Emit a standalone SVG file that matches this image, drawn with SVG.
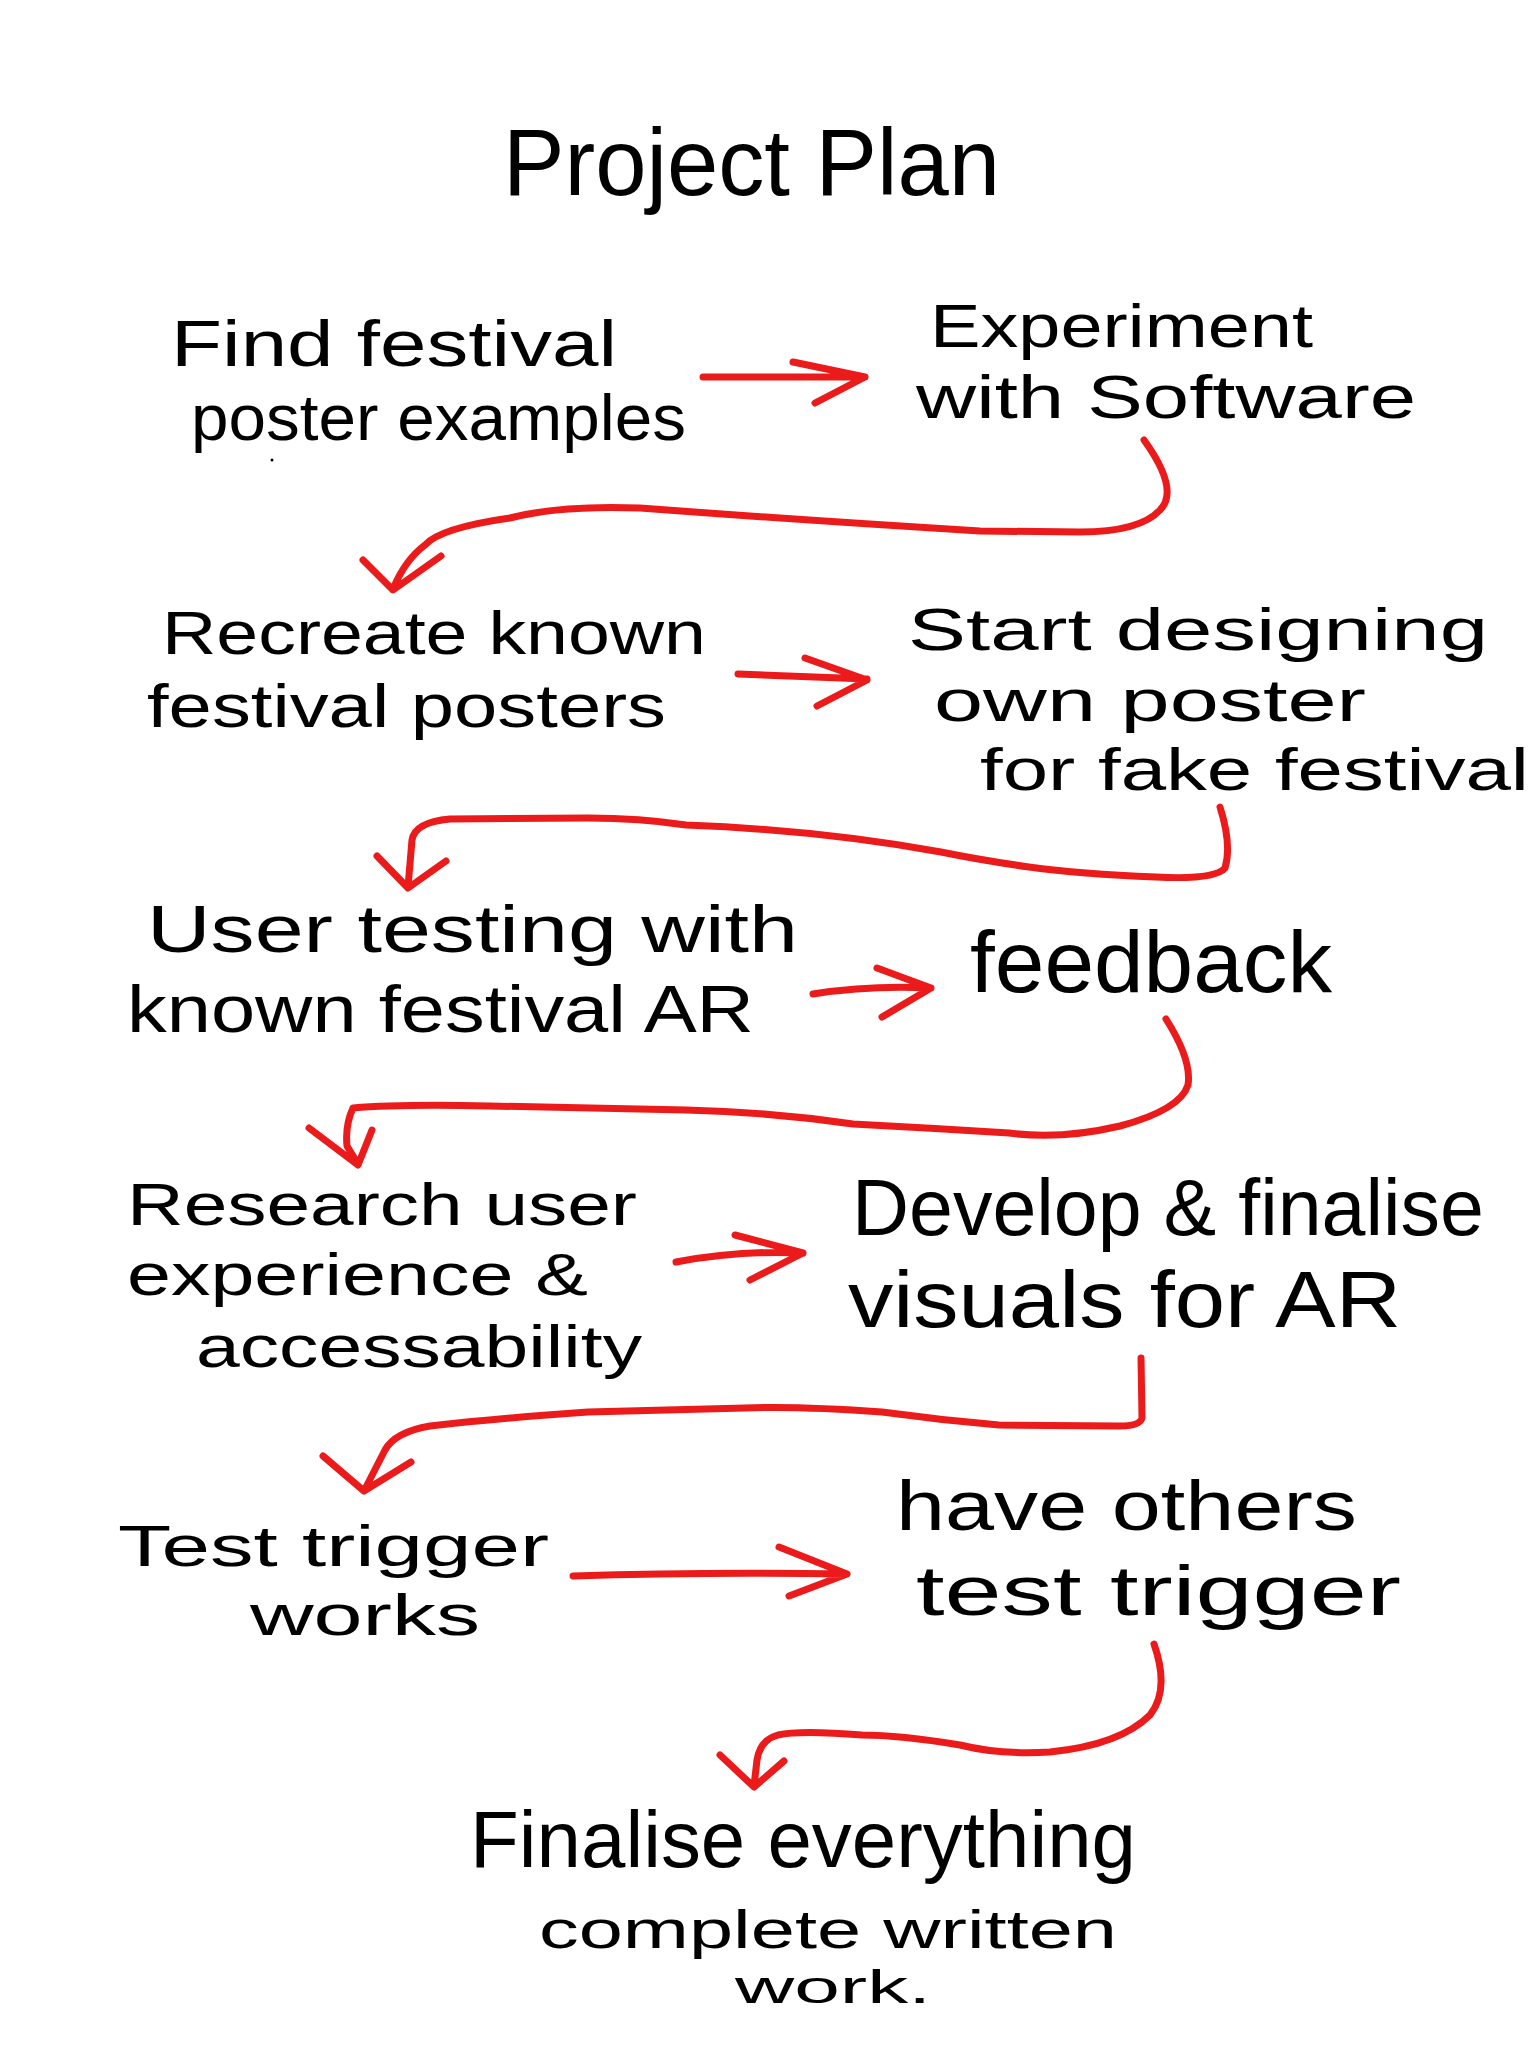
<svg xmlns="http://www.w3.org/2000/svg" width="1536" height="2048" viewBox="0 0 1536 2048">
<style>
.t{font-family:"Liberation Sans","DejaVu Sans",sans-serif;fill:#000;}
.c{fill:none;stroke:#ec1b1b;stroke-width:7;stroke-linecap:round;stroke-linejoin:round;}
</style>
<rect width="1536" height="2048" fill="#fff"/>
<g id="title"><text class="t" x="503" y="195" font-size="95" textLength="497" lengthAdjust="spacingAndGlyphs">Project Plan</text></g>
<g id="n1"><text class="t" font-size="64"><tspan x="171" y="366" textLength="446" lengthAdjust="spacingAndGlyphs">Find festival</tspan><tspan x="191" y="440" textLength="495" lengthAdjust="spacingAndGlyphs">poster examples</tspan></text></g>
<g id="n2"><text class="t" font-size="61"><tspan x="930" y="347" textLength="383" lengthAdjust="spacingAndGlyphs">Experiment</tspan><tspan x="916" y="418" textLength="500" lengthAdjust="spacingAndGlyphs">with Software</tspan></text></g>
<g id="n3"><text class="t" font-size="61"><tspan x="162" y="654" textLength="544" lengthAdjust="spacingAndGlyphs">Recreate known</tspan><tspan x="147" y="727" textLength="519" lengthAdjust="spacingAndGlyphs">festival posters</tspan></text></g>
<g id="n4"><text class="t" font-size="59"><tspan x="908" y="650" textLength="580" lengthAdjust="spacingAndGlyphs">Start designing</tspan><tspan x="934" y="721" textLength="432" lengthAdjust="spacingAndGlyphs">own poster</tspan><tspan x="980" y="790" textLength="549" lengthAdjust="spacingAndGlyphs">for fake festival</tspan></text></g>
<g id="n5"><text class="t" font-size="67"><tspan x="147" y="952" textLength="651" lengthAdjust="spacingAndGlyphs">User testing with</tspan><tspan x="127" y="1032" textLength="627" lengthAdjust="spacingAndGlyphs">known festival AR</tspan></text></g>
<g id="n6"><text class="t" x="970" y="992" font-size="88" textLength="362" lengthAdjust="spacingAndGlyphs">feedback</text></g>
<g id="n7"><text class="t" font-size="59"><tspan x="127" y="1225" textLength="510" lengthAdjust="spacingAndGlyphs">Research user</tspan><tspan x="127" y="1295" textLength="461" lengthAdjust="spacingAndGlyphs">experience &amp;</tspan><tspan x="196" y="1367" textLength="446" lengthAdjust="spacingAndGlyphs">accessability</tspan></text></g>
<g id="n8"><text class="t" font-size="79"><tspan x="852" y="1235" textLength="632" lengthAdjust="spacingAndGlyphs">Develop &amp; finalise</tspan><tspan x="848" y="1327" textLength="553" lengthAdjust="spacingAndGlyphs">visuals for AR</tspan></text></g>
<g id="n9"><text class="t" font-size="58"><tspan x="118" y="1566" textLength="431" lengthAdjust="spacingAndGlyphs">Test trigger</tspan><tspan x="250" y="1635" textLength="230" lengthAdjust="spacingAndGlyphs">works</tspan></text></g>
<g id="n10"><text class="t" font-size="71"><tspan x="896" y="1530" textLength="461" lengthAdjust="spacingAndGlyphs">have others</tspan><tspan x="916" y="1615" textLength="485" lengthAdjust="spacingAndGlyphs">test trigger</tspan></text></g>
<g id="n11"><text class="t"><tspan x="470" y="1867" font-size="80" textLength="666" lengthAdjust="spacingAndGlyphs">Finalise everything</tspan><tspan x="539" y="1948" font-size="54" textLength="578" lengthAdjust="spacingAndGlyphs">complete written</tspan><tspan x="735" y="2003" font-size="46" textLength="196" lengthAdjust="spacingAndGlyphs">work.</tspan></text></g>
<g id="connectors">
<path class="c" d="M703,377 L865,377 M793,362 L865,377 L815,403"/>
<path class="c" d="M1144,440 Q1180,490 1160,510 Q1140,532 1080,532 L980,531 Q800,520 640,508 Q560,505 510,518 Q440,528 425,545 Q405,560 393,589 M363,560 L393,590 L441,556"/>
<path class="c" d="M738,674 L867,679 M805,658 L867,680 L817,706"/>
<path class="c" d="M1220,807 Q1232,845 1225,868 Q1215,880 1156,877 Q1080,874 1029,867 Q980,860 941,852 Q820,830 686,825 Q640,818 588,818 L450,819 Q415,822 412,840 L408,887 M377,856 L408,888 L446,861"/>
<path class="c" d="M813,994 Q870,985 931,988 M877,968 L931,988 L882,1017"/>
<path class="c" d="M1166,1019 Q1192,1060 1188,1085 Q1180,1110 1120,1126 Q1060,1140 1009,1133 Q930,1128 853,1124 Q770,1112 686,1110 L490,1106 Q400,1104 353,1108 Q345,1125 347,1146 L358,1164 M309,1128 L358,1165 L372,1130"/>
<path class="c" d="M676,1262 Q740,1250 803,1253 M735,1235 L803,1253 L750,1280"/>
<path class="c" d="M1141,1358 L1142,1418 Q1140,1426 1120,1426 L999,1425 Q940,1420 882,1412 Q800,1406 745,1408 Q660,1410 588,1412 Q500,1418 430,1426 Q395,1432 385,1450 L364,1491 M323,1456 L364,1491 L411,1462"/>
<path class="c" d="M573,1576 Q700,1572 847,1574 M779,1547 L847,1574 L789,1596"/>
<path class="c" d="M1154,1644 Q1170,1690 1150,1715 Q1120,1745 1050,1752 Q1000,1755 960,1745 Q900,1735 862,1735 Q800,1730 778,1735 Q760,1740 757,1760 L754,1786 M720,1755 L754,1787 L784,1761"/>
</g>
<circle cx="272" cy="460" r="1.5" fill="#000"/>
</svg>
